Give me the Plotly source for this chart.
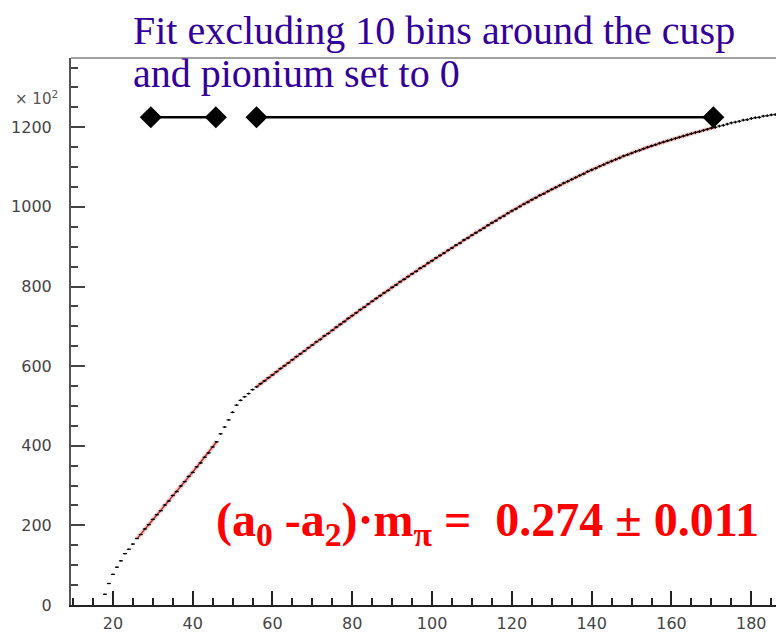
import math
import plotly.graph_objects as go

# ---- data (values in units of 10^2 entries) ----
bin_start = 18
counts = [
    27, 54, 77, 95, 111, 129, 140, 153, 167, 177,            # 18-27
    191, 202, 215, 227, 237, 251, 261, 275, 285, 299,        # 28-37
    310, 323, 333, 347, 357, 371, 382, 397, 410, 430,        # 38-47
    447, 465, 484, 502, 514, 523, 531, 541, 548, 556,        # 48-57
    563, 571, 578, 586, 594, 601, 608, 616, 624, 631,        # 58-67
    638, 646, 653, 661, 667, 676, 682, 690, 698, 705,        # 68-77
    712, 720, 727, 734, 742, 748, 756, 763, 770, 777,        # 78-87
    784, 790, 798, 804, 812, 818, 825, 832, 838, 846,        # 88-97
    851, 859, 865, 872, 878, 884, 891, 897, 904, 909,        # 98-107
    917, 922, 929, 935, 941, 947, 954, 960, 965, 972,        # 108-117
    977, 984, 990, 995, 1001, 1007, 1012, 1018, 1023, 1029,  # 118-127
    1033, 1039, 1044, 1049, 1054, 1060, 1064, 1069, 1074, 1079,  # 128-137
    1083, 1089, 1093, 1097, 1102, 1106, 1111, 1115, 1119, 1123,  # 138-147
    1128, 1131, 1135, 1139, 1142, 1146, 1150, 1153, 1156, 1160,  # 148-157
    1163, 1166, 1169, 1172, 1175, 1178, 1181, 1184, 1187, 1189,  # 158-167
    1192, 1195, 1198, 1200, 1203, 1205, 1208, 1211, 1213, 1215,  # 168-177
    1218, 1219, 1222, 1224, 1225, 1228, 1229, 1231, 1232,        # 178-186
]
bin_centers = [bin_start + i for i in range(len(counts))]
stat_err = [math.sqrt(v) / 10.0 for v in counts]  # Poisson error in units of 10^2

# fit curve (two fitted regions, the cusp region excluded)
fit_x1 = [26, 30, 35, 40, 46]
fit_y1 = [166, 214, 274, 334, 410]
fit_x2 = [56, 60, 65, 70, 75, 80, 85, 90, 95, 100, 105, 110, 115, 120, 125,
          130, 135, 140, 145, 150, 155, 160, 165, 170, 171]
fit_y2 = [548, 578, 616, 653, 690, 727, 763, 798, 832, 865, 897, 929, 960, 990, 1018,
          1044, 1069, 1093, 1115, 1135, 1153, 1169, 1184, 1198, 1200]

# fit-range markers
range_x1 = [29.5, 45.8]
range_x2 = [56.0, 170.5]
range_level = 1225

x_ticks = [20, 40, 60, 80, 100, 120, 140, 160, 180]
y_ticks = [0, 200, 400, 600, 800, 1000, 1200]

# ---- figure ----
W, H = 776, 633
ML, MR, MT, MB = 71, 0, 58, 22
PW, PH = W - ML - MR, H - MT - MB


def px_to_paper(px, py):
    return (px - ML) / PW, (H - MB - py) / PH


fig = go.Figure()

fit_x = fit_x1 + [None] + fit_x2
fit_y = fit_y1 + [None] + fit_y2
# soft glow under fit line
fig.add_trace(go.Scatter(x=fit_x, y=fit_y, mode="lines", line=dict(color="rgba(225,120,120,0.35)", width=4.5, shape="spline"),
                         hoverinfo="skip", showlegend=False))
fig.add_trace(go.Scatter(x=fit_x, y=fit_y, mode="lines", line=dict(color="rgb(175,45,45)", width=1.4, shape="spline"),
                         showlegend=False))

# histogram with error crosses
fig.add_trace(go.Scatter(
    x=bin_centers, y=counts, mode="markers",
    marker=dict(size=1.5, color="black"),
    error_x=dict(type="constant", value=0.5, width=0, thickness=1.2, color="black"),
    error_y=dict(type="data", array=stat_err, width=0, thickness=1.2, color="black"),
    showlegend=False,
))

# fit ranges with diamonds
fig.add_trace(go.Scatter(
    x=range_x1 + [None] + range_x2,
    y=[range_level] * 2 + [None] + [range_level] * 2,
    mode="lines+markers",
    line=dict(color="black", width=2.5),
    marker=dict(symbol="diamond", size=17, color="black", line=dict(width=0)),
    cliponaxis=False, showlegend=False,
))

axis_font = dict(family="DejaVu Sans", size=16, color="#444")

fig.update_xaxes(
    range=[9.5, 186.2], tickvals=x_ticks, ticktext=[str(v) for v in x_ticks],
    ticks="inside", ticklen=14, tickwidth=1.5, tickcolor="#222",
    minor=dict(dtick=5, tick0=0, ticks="inside", ticklen=7, tickwidth=1.5, tickcolor="#222"),
    showline=True, linecolor="#222", linewidth=2, showgrid=False, zeroline=False,
    tickfont=axis_font, ticklabelstandoff=3,
)
fig.update_yaxes(
    range=[0, 1374], tickvals=y_ticks, ticktext=[str(v) for v in y_ticks],
    ticks="inside", ticklen=14, tickwidth=1.5, tickcolor="#444",
    minor=dict(dtick=50, tick0=0, ticks="inside", ticklen=7, tickwidth=1.5, tickcolor="#444"),
    showline=True, linecolor="#555", linewidth=2, showgrid=False, zeroline=False,
    tickfont=axis_font, ticklabelstandoff=14,
)

# top frame line
fig.add_shape(type="line", xref="paper", yref="paper", x0=0, x1=1, y0=1, y1=1,
              line=dict(color="#444", width=1))

annotations = []
ax, ay = px_to_paper(131, 30)
annotations.append(dict(text="Fit excluding 10 bins around the cusp", x=ax, y=ay, xref="paper", yref="paper",
                        xanchor="left", yanchor="middle", showarrow=False,
                        font=dict(family="Liberation Serif", size=40, color="#330099")))
ax, ay = px_to_paper(131, 74)
annotations.append(dict(text="and pionium set to 0", x=ax, y=ay, xref="paper", yref="paper",
                        xanchor="left", yanchor="middle", showarrow=False,
                        font=dict(family="Liberation Serif", size=40, color="#330099")))
ax, ay = px_to_paper(214, 528)
annotations.append(dict(
    text="<b>(a<sub>0</sub> -a<sub>2</sub>)·m<sub>π</sub> =\u00a0 0.274 ± 0.011</b>",
    x=ax, y=ay, xref="paper", yref="paper", xanchor="left", yanchor="middle", showarrow=False,
    font=dict(family="Liberation Serif", size=48, color="#ff0000")))
ax, ay = px_to_paper(13, 98)
annotations.append(dict(text="×\u00a010<sup>2</sup>", x=ax, y=ay, xref="paper", yref="paper",
                        xanchor="left", yanchor="middle", showarrow=False,
                        font=dict(family="DejaVu Sans", size=15, color="#555")))

fig.update_layout(
    width=W, height=H, margin=dict(l=ML, r=MR, t=MT, b=MB, pad=0),
    paper_bgcolor="white", plot_bgcolor="white",
    annotations=annotations, showlegend=False,
)

fig.write_html("out.html")
